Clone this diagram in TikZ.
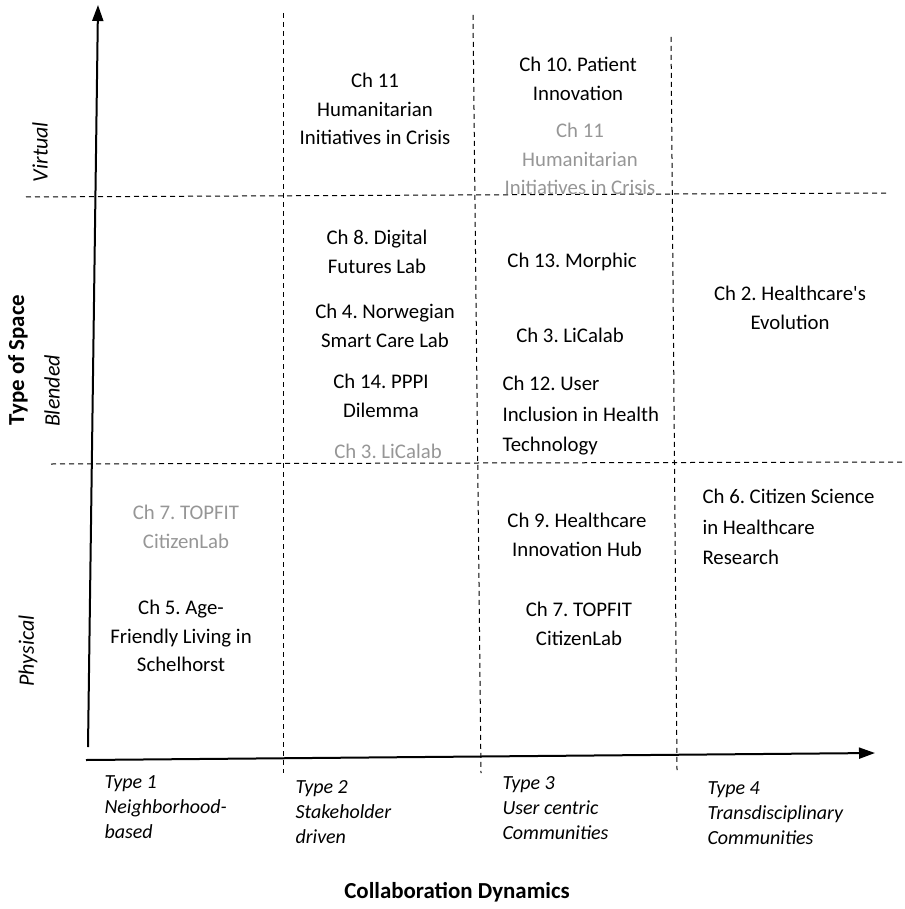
\documentclass[tikz,border=0pt]{standalone}
\usepackage{fontspec}
\setmainfont{Carlito}
\usetikzlibrary{arrows.meta,positioning}
\definecolor{faded}{RGB}{150,150,150}

\begin{document}
\frenchspacing
\begin{tikzpicture}[x=1pt,y=-1pt,
	chap/.style = {align=center, font=\fontsize{20.8}{28.5}\selectfont},
	chapl/.style = {align=left, anchor=west, font=\fontsize{20.8}{30.5}\selectfont},
	ghost/.style = {text=faded},
	grid/.style = {dashed, dash pattern=on 5pt off 4pt, line width=1pt},
	axis/.style = {line width=2pt, -{Triangle[length=16pt,width=11pt]}},
	kind/.style = {align=left, anchor=north west, font=\fontsize{20}{25}\selectfont\itshape},
	side/.style = {rotate=90, font=\fontsize{22}{24}\selectfont\itshape}]
	\useasboundingbox (0,0) rectangle (904,909);
	% axes
	\coordinate (o1) at (88,747);
	\coordinate (ytip) at (98,5);
	\coordinate (o2) at (86,760);
	\coordinate (xtip) at (875,753);
	\draw[axis] (o1) -- (ytip);
	\draw[axis] (o2) -- (xtip);
	% dashed grid
	\coordinate (h1a) at (26,197);  \coordinate (h1b) at (887,193);
	\coordinate (h2a) at (51,464);  \coordinate (h2b) at (902,462);
	\coordinate (v1a) at (283,13);  \coordinate (v1b) at (283,773);
	\coordinate (v2a) at (473,15);  \coordinate (v2b) at (481,773);
	\coordinate (v3a) at (671,37);  \coordinate (v3b) at (677,770);
	\draw[grid] (h1a) -- (h1b);
	\draw[grid] (h2a) -- (h2b);
	\draw[grid] (v1a) -- (v1b);
	\draw[grid] (v2a) -- (v2b);
	\draw[grid] (v3a) -- (v3b);
	% virtual
	\node[chap] (c11) at (375,109) {Ch 11\\Humanitarian\\Initiatives in Crisis};
	\node[chap] (c10) at (578,79) {Ch 10. Patient\\Innovation};
	\node[chap, ghost] (c11g) at (580,159) {Ch 11\\Humanitarian\\Initiatives in Crisis};
	% blended
	\node[chap] (c8) at (377,252) {Ch 8. Digital\\Futures Lab};
	\node[chap] (c4) at (385,326) {Ch 4. Norwegian\\Smart Care Lab};
	\node[chap] (c14) at (381,396) {Ch 14. PPPI\\Dilemma};
	\node[chap, ghost] (c3g) at (388,451) {Ch 3. LiCalab};
	\node[chap] (c13) at (572,262) {Ch 13. Morphic};
	\node[chap] (c3) at (570,335) {Ch 3. LiCalab};
	\node[chapl] (c12) at (499,416) {Ch 12. User\\Inclusion in Health\\Technology};
	\node[chap] (c2) at (790,308) {Ch 2. Healthcare\textquotesingle s\\Evolution};
	% physical
	\node[chap, ghost] (c7g) at (186,527) {Ch 7. TOPFIT\\CitizenLab};
	\node[chap] (c5) at (181,636) {Ch 5. Age-\\Friendly Living in\\Schelhorst};
	\node[chap] (c9) at (577,535) {Ch 9. Healthcare\\Innovation Hub};
	\node[chap] (c7) at (579,624) {Ch 7. TOPFIT\\CitizenLab};
	\node[chapl] (c6) at (699,527) {Ch 6. Citizen Science\\in Healthcare\\Research};
	% axis labels
	\node[kind] (t1) at (101,772) {Type 1\\Neighborhood-\\based};
	\node[kind] (t2) at (292,777) {Type 2\\Stakeholder\\driven};
	\node[kind] (t3) at (499,773) {Type 3\\User centric\\Communities};
	\node[kind] (t4) at (704,778) {Type 4\\Transdisciplinary\\Communities};
	\node[font=\fontsize{22.9}{26}\selectfont\bfseries] (xlab) at (457,892) {Collaboration Dynamics};
	\node[rotate=90, font=\fontsize{22.9}{26}\selectfont\bfseries] (ylab) at (18,360) {Type of Space};
	\node[side] (virt) at (40,152) {Virtual};
	\node[side] (blend) at (52,391) {Blended};
	\node[side] (phys) at (28,651) {Physical};
\end{tikzpicture}
\end{document}
